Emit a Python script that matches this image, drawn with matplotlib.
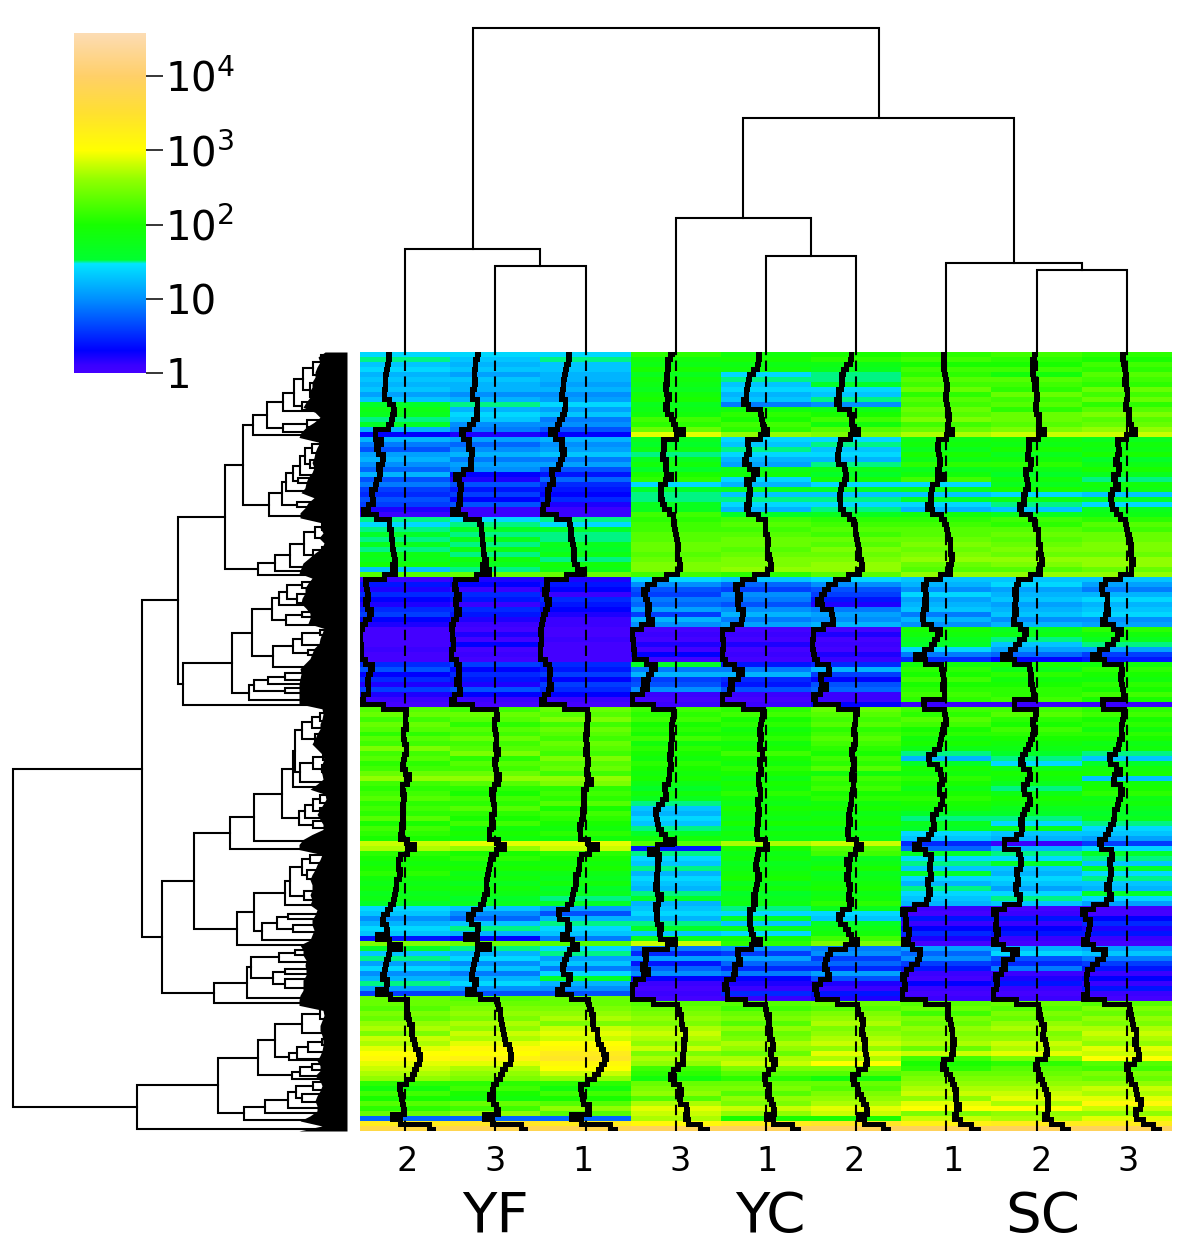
import numpy as np
import matplotlib
matplotlib.use("Agg")
import matplotlib.pyplot as plt
from matplotlib.colors import LinearSegmentedColormap

plt.rcParams['font.family'] = ['DejaVu Sans']
plt.rcParams['mathtext.default'] = 'regular'

# heat values: log10(count) in tenths, one list per sample, rows top to bottom
YF2 = [14,15,13,14,12,13,12,13,11, 13,16,18,17, 15,16,12,3, 12,9,7,11,12,10,8,12,7,9,6, 5,7,6,2,1,
       15,14,15,16,15,17,15,18,17,19,13,23,
       1,4,2,5,3,2,5,6,3,2, 0,0,0,0,1,0,0, 5,7,3,5,2,6, 2,1,0,
       23,24,22,24,23,21,23,22,25,22,23,21,22,24,26,22,21,22,23,21,22,21,23,20,22,21,20,28,
       27,21,20,19,20,21,19,18,19,17,18,16, 14,13,10,12,14,13,4,25, 16,13,15,11,14,10,12,15,11,6,24,
       24,23,25,24,26,27,25, 28,27,29,30,31,29,28, 27,26, 21,19,22,20,23,21,24, 8, 33,37]
YF3 = [14,13,12,13,11,13,12,12,10, 12,15,12,14, 13,10,9,2, 11,8,10,12,9,11,10,3,2,7,4, 6,3,7,1,1,
       14,15,16,15,17,15,18,15,19,17,15,24,
       2,3,1,5,4,1,5,4,2,1, 0,2,0,3,0,1,0, 6,3,5,4,2,7, 3,1,0,
       22,24,23,21,23,22,24,22,23,25,21,23,22,24,26,23,21,20,22,21,23,21,20,22,19,20,19,29,
       26,20,21,19,20,18,19,17,19,18,16,17, 13,10,8,13,15,12,3,24, 15,12,14,10,13,9,12,14,10,7,23,
       24,25,26,25,27,26,28, 27,29,31,30,32,29,27, 26,25, 21,22,20,19,24,22,26, 8, 34,38]
YF1 = [14,15,13,13,12,12,11,12,10, 11,14,11,13, 9,10,7,3, 12,10,11,13,9,11,7,4,8,5,4, 3,5,2,1,1,
       15,14,16,15,15,17,16,18,15,19,18,24,
       2,4,3,1,5,4,3,2,1,1, 0,0,1,0,0,0,0, 5,4,6,3,6,5, 3,1,0,
       24,23,25,22,24,23,22,24,23,22,25,23,24,22,26,25,21,22,21,23,20,22,21,20,19,21,19,29,
       28,21,20,19,20,18,17,19,16,17,15,16, 11,7,12,15,14,13,9,23, 14,15,11,13,9,14,16,12,10,7,24,
       24,25,26,27,25,28,29, 28,30,31,33,34,31,30, 28,26, 21,19,22,20,23,26,23, 8, 33,38]
YC3 = [21,19,18,20,17,19,18,17,19, 20,17,18,19, 22,21,24,29, 17,16,18,15,17,19,16,20,21,14,16, 15,15,17,17,22,
       21,22,22,23,23,24,24,23,24,25,25,22,
       14,10,7,6,9,8,11,6,12,10, 0,1,0,2,0,3,0, 16,9,12,6,7,10, 1,0,1,
       22,21,22,20,21,20,22,19,21,20,19,21,20,19,20,18,16,19,17,15,13,12,14,13,15,16,19,23,
       4,15,14,13,15,12,14,13,12,15,16,12, 13,14,12,15,16,13,17,28, 9,5,11,4,8,10,3,1,0,1,0,
       23,24,25,26,25,27,28, 27,26,28,25,27,26,22, 21,19, 24,25,26,23,27,29,28, 27, 31,39]
YC1 = [19,20,18,19,14,15,13,14,12, 13,9,19,21, 20,22,21,26, 14,13,15,14,12,11,18,19,14,12,17, 13,15,14,12,16,
       22,23,22,23,24,24,23,24,25,25,26,21,
       13,8,6,10,9,7,10,12,9,11, 0,1,0,2,0,1,0, 4,9,12,5,4,7, 1,0,1,
       21,22,20,21,19,20,21,19,20,22,20,19,21,20,18,20,19,21,19,18,20,19,18,20,17,19,18,27,
       20,18,19,17,18,19,20,17,19,16,17,18, 15,14,16,13,17,14,19,21, 10,6,11,8,5,9,3,2,1,5,1,
       23,22,24,25,23,26,24, 25,27,26,24,27,28,25, 23,21, 24,25,23,26,25,28,26, 20, 33,39]
YC2 = [20,21,18,17,15,15,16,14,13, 15,10,18,20, 22,19,23,25, 14,15,13,14,12,15,18,16,19,14,16, 13,15,14,15,17,
       21,22,23,22,24,23,25,24,25,26,26,23,
       14,10,7,6,4,2,9,11,10,12, 0,2,0,1,0,2,1, 5,12,6,3,7,8, 1,1,3,
       24,23,22,23,21,22,23,22,21,20,22,21,23,19,22,21,22,20,21,19,20,18,19,20,17,19,18,28,
       23,22,17,18,20,17,18,19,20,18,19,21, 17,14,13,16,18,19,22,25, 9,10,6,8,5,11,7,2,1,4,2,
       24,23,25,26,27,25,26, 27,28,26,29,27,30,25, 23,19, 24,23,25,26,27,29,28, 20, 34,39]
SC1 = [21,22,20,22,21,23,22,24,21, 23,22,24,23, 25,22,24,27, 18,19,17,20,18,21,17,19,22,14,17, 13,16,14,12,19,
       21,22,23,23,24,25,24,25,26,24,23,26,
       13,12,10,14,11,12,13,9,12,10, 20,19,17,16,14,9,5, 19,21,20,22,20,21, 22,21,1,
       22,21,23,22,20,21,19,20,18,15,12,16,20,19,21,20,18,20,21,20,19,16,15,17,16,14,13,5,
       8,16,14,15,13,16,14,12,15,14,13,12, 1,0,4,1,3,5,2,0, 11,8,10,6,4,1,0,3,1,0,1,
       23,24,22,25,24,26,25, 26,27,24,28,22,20,21, 24,25, 26,27,28,26,29,30,25, 28, 32,39]
SC2 = [22,21,20,22,19,23,22,21,24, 22,23,21,24, 24,23,25,28, 19,18,20,17,19,21,18,16,19,17,20, 14,18,15,13,17,
       22,21,23,24,23,24,25,24,26,25,23,26,
       13,14,11,12,13,11,12,13,10,12, 17,18,15,13,11,8,3, 20,18,21,19,20,21, 21,22,1,
       22,23,21,20,22,21,20,19,18,16,15,14,18,20,19,17,15,18,20,19,17,16,15,14,17,13,12,1,
       12,15,14,16,13,12,14,13,11,14,15,13, 0,1,4,1,3,4,1,0, 12,14,7,5,9,1,2,4,1,0,1,
       24,23,25,24,26,27,25, 26,28,27,29,25,21,23, 24,25, 26,27,28,29,27,30,26, 27, 33,39]
SC3 = [21,20,22,21,23,22,21,24,22, 24,21,23,25, 23,24,26,28, 17,19,18,20,16,18,20,17,15,19,18, 13,16,14,17,18,
       21,23,22,24,24,25,25,24,26,26,24,26,
       13,11,9,12,14,12,13,14,10,11, 21,19,17,15,11,6,4, 19,21,20,19,21,20, 22,20,1,
       21,22,20,21,19,21,20,18,19,15,13,16,19,20,13,19,20,21,18,19,17,16,17,15,14,13,11,6,
       14,16,15,13,16,14,15,13,12,16,14,11, 0,0,3,5,2,4,1,0, 11,13,9,6,4,1,3,1,4,1,0,
       23,25,24,26,25,27,28, 27,26,29,28,30,23,22, 25,24, 26,28,27,29,31,28,26, 29, 33,39]

SAMPLES = [YF2, YF3, YF1, YC3, YC1, YC2, SC1, SC2, SC3]
REPLICATES = ['2', '3', '1', '3', '1', '2', '1', '2', '3']
GROUPS = ['YF', 'YC', 'SC']
COLORBAR_TICKS = [0, 1, 2, 3, 4]
COLORBAR_LABELS = ['1', '10', '10$^{2}$', '10$^{3}$', '10$^{4}$']
VMAX = 4.58

# column dendrogram: leaves are column numbers, nodes are (height, a, b)
col_yf = (103, 0, (86, 1, 2))
col_yc = (134, 3, (96, 4, 5))
col_sc = (89, 6, (82, 7, 8))
COL_TREE = (324, col_yf, (234, col_yc, col_sc))

# row dendrogram: leaves are ranks from the top, nodes are (height, upper, lower)
N_k = (80, (64, (53, (44, (34, (26, 3, 16), 23), (37, 31, 45)), (45, 50, 58)), 59), (64, (40, 68, 75), 80))
N_l = (94, N_k, 83)
N_t = (78, (65, (61, (54, (47, (42, (35, (27, 88, 95), 101), (37, 108, 116)), 123), (49, 126, 131)), 139), (50, 150, 155)), 164)
N_z = (89, (72, (57, (43, (32, (25, 171, 178), 186), (34, (25, 195, 201), 208)), 215), 219), 223)
T225 = (122, (104, N_l, N_t), N_z)
T272 = (75, (68, (60, (45, 230, 236), (50, 242, 251)), 253), (61, (45, 260, 265), 273))
T273 = (74, (54, (45, (27, 278, 283), 293), (39, 298, 303)), 315)
D250 = (98, (93, (79, (62, 321, 328), 332), (62, 336, 341)), 348)
X183 = (164, (115, (95, T272, T273), D250), 353)
X178 = (169, T225, X183)
F5 = (52, (45, (35, (27, (19, 358, 363), 369), 376), (32, 382, 391)), (47, (34, (24, 402, 408), (25, 413, 420)), 430))
H4 = (42, (34, (27, (19, 440, 446), 451), (27, 456, 461)), 466)
X282 = (65, (54, F5, 435), (48, H4, (34, 469, 476)))
X230 = (117, (93, X282, 489), 497)
T285 = (62, (57, (45, (37, 503, 511), (40, 518, 527)), (43, 539, 548)), 553)
K2 = (85, (70, (59, 562, 567), (54, 573, 580)), 588)
X194 = (153, X230, (110, (93, T285, K2), 593))
X214 = (133, (100, (96, (68, (52, 598, 603), 610), (74, (62, 617, 622), (62, 627, 636))), 646), 651)
X142 = (205, X178, (185, X194, X214))
R275 = (72, (45, (27, (19, 654, 660), 667), 681), (58, (50, (39, (25, 687, 693), 700), 707), 708))
R258 = (89, R275, (55, (47, (35, 712, 718), 724), 727))
R245 = (103, (82, (59, (51, (34, 730, 738), (45, 742, 750)), 756), 761), 768)
X137 = (210, (129, R258, R245), 777)
ROW_TREE = (334, X142, X137)

# reach of the dense leaf mass, every 5 ranks from the top
LEAF_REACH = [22,29,27,30,32,32,35,35,38,37,41,44,32,27,33,41,46,48,27,30,32,33,35,33,35,39,41,42,46,33,39,42,47,47,
              25,27,24,28,23,25,32,38,44,46,48,35,39,42,42,45,46,41,37,37,39,23,25,27,28,33,35,37,42,47,46,47,48,48,48,48,48,
              25,24,25,27,27,30,32,35,30,25,23,25,27,25,24,30,37,22,21,24,27,30,27,24,24,35,44,48,48,
              25,27,30,32,35,37,35,35,37,35,37,30,32,35,35,33,35,37,47,44,44,41,42,41,41,44,44,44,47,48,48,
              24,23,25,27,27,25,24,24,25,27,30,27,27,32,27,25,27,30,32,30,30,37,47,25,48]

W, H = 1200, 1253
fig = plt.figure(figsize=(W / 100, H / 100), dpi=100, facecolor='white')


def px_axes(x0, y0, x1, y1):
    return fig.add_axes([x0 / W, 1 - y1 / H, (x1 - x0) / W, (y1 - y0) / H])


stops = [(0.0, '#4400ff'), (0.1, '#3a00ff'), (0.3, '#0000ff'), (1.0, '#0090ff'), (1.47, '#00e5ff'),
         (1.52, '#00ff30'), (2.0, '#18ff00'), (2.6, '#90ff00'), (3.0, '#ffff00'),
         (3.5, '#ffe030'), (4.0, '#ffcf68'), (VMAX, '#fcdcb4')]
cmap = LinearSegmentedColormap.from_list('heat', [(v / VMAX, c) for v, c in stops], N=1024)

LW = 1.5

# heatmap and traces
ax = px_axes(360, 352, 1172, 1131)
values = np.array(SAMPLES, dtype=float).T / 10
n_rows, n_cols = values.shape
im = ax.imshow(values, cmap=cmap, vmin=0, vmax=VMAX, aspect='auto', interpolation='nearest',
               extent=(0, n_cols, n_rows, 0))
rows = np.arange(n_rows) + 0.5
for c in range(n_cols):
    ax.axvline(c + 0.5, color='black', lw=LW, dashes=(5, 2.6))
    ax.step(c + values[:, c] / VMAX, rows, where='mid', color='black', lw=3.6, solid_joinstyle='miter')
ax.set_xlim(0, n_cols)
ax.set_ylim(n_rows, 0)
for s in ax.spines.values():
    s.set_visible(False)
ax.set_yticks([])
label_shift = np.array([2, 0, -3, 4, 1, -2, 7, 5, 1]) / 90.2
ax.set_xticks(np.arange(n_cols) + 0.5 + label_shift)
ax.set_xticklabels(REPLICATES, fontsize=24)
ax.tick_params(axis='x', length=0, pad=10)

for name, x in zip(GROUPS, [495, 770, 1043]):
    fig.text(x / W, 1 - 1217 / H, name, fontsize=40.5, ha='center', va='center')


def draw_tree(node, ax, horizontal):
    """Draw a (height, a, b) node; returns (leaf position, height)."""
    if not isinstance(node, tuple):
        return node, 0
    h, a, b = node
    pa, ha = draw_tree(a, ax, horizontal)
    pb, hb = draw_tree(b, ax, horizontal)
    xs = [pa, pa, pb, pb]
    ys = [ha, h, h, hb]
    if horizontal:
        ax.plot(ys, xs, color='black', lw=LW, solid_joinstyle='miter', solid_capstyle='projecting')
    else:
        ax.plot(xs, ys, color='black', lw=LW, solid_joinstyle='miter', solid_capstyle='projecting')
    return (pa + pb) / 2, h


# column dendrogram
top = px_axes(360, 0, 1172, 352)
top.set_xlim(0, n_cols)
top.set_ylim(0, 352)
top.axis('off')


def shift_leaves(node):
    return (node[0], shift_leaves(node[1]), shift_leaves(node[2])) if isinstance(node, tuple) else node + 0.5


draw_tree(shift_leaves(COL_TREE), top, False)

# row dendrogram
left = px_axes(0, 352, 347, 1131)
left.set_xlim(347, 0)
left.set_ylim(779, 0)
left.axis('off')
draw_tree(ROW_TREE, left, True)
ranks = np.arange(len(LEAF_REACH)) * 779 / (len(LEAF_REACH) - 1)
left.fill_betweenx(ranks, 0, LEAF_REACH, color='black', lw=0)

# colour key
cax = px_axes(74, 33, 146, 373)
cb = fig.colorbar(im, cax=cax, ticks=COLORBAR_TICKS)
cb.ax.set_yticklabels(COLORBAR_LABELS, fontsize=29)
cb.ax.tick_params(length=12, width=1.1, pad=2)
cb.outline.set_visible(False)

fig.savefig('out.png', dpi=100)
